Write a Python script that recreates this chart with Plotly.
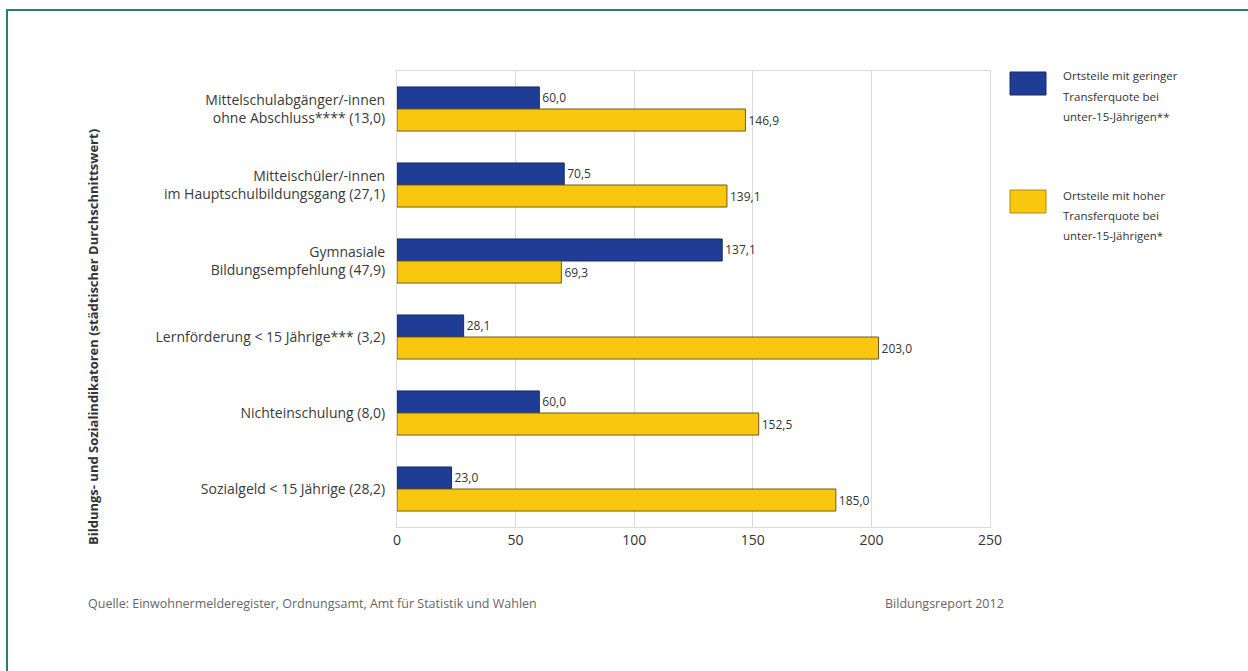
import plotly.graph_objects as go

categories = [
    "Mittelschulabgänger/-innen<br>ohne Abschluss**** (13,0)",
    "Mitteischüler/-innen<br>im Hauptschulbildungsgang (27,1)",
    "Gymnasiale<br>Bildungsempfehlung (47,9)",
    "Lernförderung < 15 Jährige*** (3,2)",
    "Nichteinschulung (8,0)",
    "Sozialgeld < 15 Jährige (28,2)",
]
low_transfer = [60.0, 70.5, 137.1, 28.1, 60.0, 23.0]
high_transfer = [146.9, 139.1, 69.3, 203.0, 152.5, 185.0]
series_lines = [
    ["Ortsteile mit geringer", "Transferquote bei", "unter-15-Jährigen**"],
    ["Ortsteile mit hoher", "Transferquote bei", "unter-15-Jährigen*"],
]
series_names = ["<br>".join(s) for s in series_lines]
x_ticks = [0, 50, 100, 150, 200, 250]

FONT = "'Open Sans', Lato, sans-serif"
BLUE = "#1f3c96"
YELLOW = "#f9c80e"

def fmt(v):
    return f"{v:.1f}".replace(".", ",")

fig = go.Figure()
fig.add_trace(go.Bar(
    y=categories, x=low_transfer, orientation="h", name=series_names[0],
    marker=dict(color=BLUE, line=dict(color="#1a2a60", width=1)),
    text=[fmt(v) for v in low_transfer], textposition="outside",
    textfont=dict(size=12, color="#333333", family=FONT), cliponaxis=False,
))
fig.add_trace(go.Bar(
    y=categories, x=high_transfer, orientation="h", name=series_names[1],
    marker=dict(color=YELLOW, line=dict(color="#6b5a20", width=1)),
    text=[fmt(v) for v in high_transfer], textposition="outside",
    textfont=dict(size=12, color="#333333", family=FONT), cliponaxis=False,
))

L, R, T, B = 397, 258, 71, 144
W, H = 1248, 671
pw, ph = W - L - R, H - T - B

def px(x):
    return (x - L) / pw

def py(y):
    return (H - B - y) / ph

shapes = [
    dict(type="rect", xref="paper", yref="paper", x0=px(7), x1=px(1262), y0=py(10), y1=py(700),
         line=dict(color="#2e7d66", width=2), fillcolor="rgba(0,0,0,0)", layer="below"),
    dict(type="rect", xref="paper", yref="paper", x0=px(1010), x1=px(1046), y0=py(72), y1=py(95),
         line=dict(color="#1a2a60", width=1), fillcolor=BLUE),
    dict(type="rect", xref="paper", yref="paper", x0=px(1010), x1=px(1046), y0=py(190), y1=py(213),
         line=dict(color="#b08a10", width=1), fillcolor=YELLOW),
]

annotations = []
for i, (lines, top) in enumerate(zip(series_lines, [76, 195])):
    for j, line in enumerate(lines):
        annotations.append(dict(
            text=line, xref="paper", yref="paper", x=px(1061), y=py(top + 20 * j),
            xanchor="left", yanchor="middle", showarrow=False,
            font=dict(size=11.5, color="#333333", family=FONT)))

annotations += [
    dict(text="<b>Bildungs- und Sozialindikatoren (städtischer Durchschnittswert)</b>", xref="paper", yref="paper",
         x=px(93), y=py(337), textangle=-90, showarrow=False, xanchor="center", yanchor="middle",
         font=dict(size=13, color="#333333", family=FONT)),
    dict(text="Quelle: Einwohnermelderegister, Ordnungsamt, Amt für Statistik und Wahlen", xref="paper", yref="paper",
         x=px(86), y=py(603), xanchor="left", yanchor="middle", showarrow=False,
         font=dict(size=12.5, color="#666666", family=FONT)),
    dict(text="Bildungsreport 2012", xref="paper", yref="paper",
         x=px(1006), y=py(603), xanchor="right", yanchor="middle", showarrow=False,
         font=dict(size=12.5, color="#666666", family=FONT)),
]

fig.update_layout(
    width=W, height=H,
    margin=dict(l=L, r=R, t=T, b=B),
    paper_bgcolor="white", plot_bgcolor="white",
    barmode="group", bargap=0.42, bargroupgap=0.0,
    showlegend=False,
    font=dict(family=FONT, color="#333333"),
    xaxis=dict(range=[0, 250], tickvals=x_ticks, ticktext=[str(t) for t in x_ticks],
               showgrid=True, gridcolor="#dadada", gridwidth=1, zeroline=False,
               showline=True, linecolor="#dadada", mirror=True, ticks="",
               tickfont=dict(size=14, color="#333333", family=FONT)),
    yaxis=dict(autorange="reversed", showgrid=False, showline=True, linecolor="#dadada", mirror=True,
               ticks="", ticklabelstandoff=8,
               tickfont=dict(size=14, color="#3a3a3a", family=FONT)),
    shapes=shapes, annotations=annotations,
)

fig.write_html("out.html")
